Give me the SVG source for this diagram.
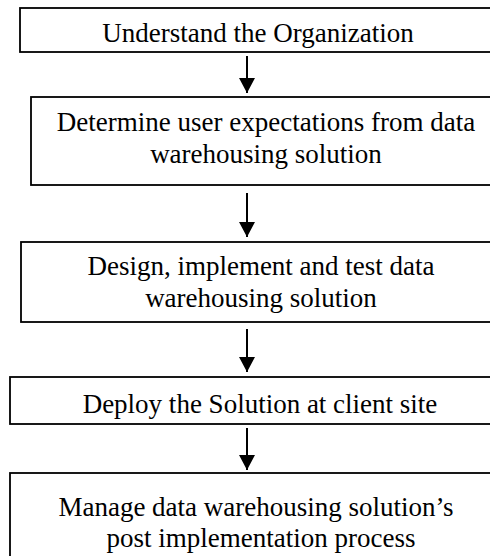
<svg xmlns="http://www.w3.org/2000/svg" width="490" height="556" viewBox="0 0 490 556">
<style>
.box{fill:#fff;stroke:#000;stroke-width:1.8}
text{font-family:'Liberation Serif','Times New Roman','DejaVu Serif',serif;font-size:27px;fill:#000;text-anchor:middle}
.c{stroke:#000;stroke-width:2;fill:none}
</style>
<defs>
<marker id="ah" markerUnits="userSpaceOnUse" markerWidth="16" markerHeight="16" viewBox="0 0 16 16" refX="15" refY="8" orient="auto">
<path d="M0,0 L15,8 L0,16 Z" fill="#000"/>
</marker>
</defs>
<rect width="490" height="556" fill="#fff"/>
<g id="n1"><rect class="box" x="20" y="8" width="490" height="44"/><text x="258" y="42" font-family="Liberation Serif, serif">Understand the Organization</text></g>
<g id="n2"><rect class="box" x="31" y="97" width="480" height="88"/><text x="266" y="131" font-family="Liberation Serif, serif">Determine user expectations from data</text><text x="266" y="163" font-family="Liberation Serif, serif">warehousing solution</text></g>
<g id="n3"><rect class="box" x="21" y="242" width="490" height="80"/><text x="261" y="275" font-family="Liberation Serif, serif">Design, implement and test data</text><text x="261" y="307" font-family="Liberation Serif, serif">warehousing solution</text></g>
<g id="n4"><rect class="box" x="10" y="377" width="500" height="47"/><text x="260" y="413" font-family="Liberation Serif, serif">Deploy the Solution at client site</text></g>
<g id="n5"><rect class="box" x="10" y="473" width="500" height="100"/><text x="256" y="516" font-family="Liberation Serif, serif">Manage data warehousing solution’s</text><text x="261" y="547" font-family="Liberation Serif, serif">post implementation process</text></g>
<g id="connectors">
<line class="c" x1="247" y1="56" x2="247" y2="93" marker-end="url(#ah)"/>
<line class="c" x1="247" y1="193" x2="247" y2="237" marker-end="url(#ah)"/>
<line class="c" x1="247" y1="329" x2="247" y2="372" marker-end="url(#ah)"/>
<line class="c" x1="247" y1="428" x2="247" y2="470" marker-end="url(#ah)"/>
</g>
</svg>
